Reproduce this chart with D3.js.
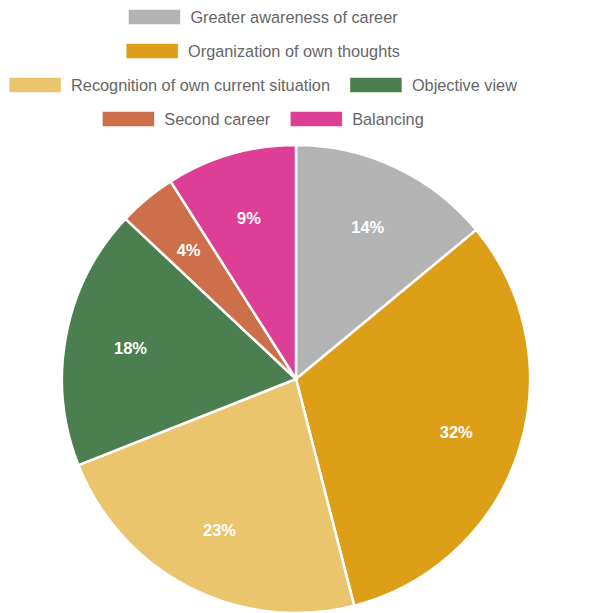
<!DOCTYPE html>
<html>
<head>
<meta charset="utf-8">
<script src="https://cdn.jsdelivr.net/npm/d3@7"></script>
<style>
  body { margin: 0; background: #fff; }
  text { font-family: "Liberation Sans", Arial, Helvetica, sans-serif; }
</style>
</head>
<body>
<div id="chart"></div>
<script>
var categories = ["Greater awareness of career", "Organization of own thoughts",
                  "Recognition of own current situation", "Objective view",
                  "Second career", "Balancing"];
var values = [14, 32, 23, 18, 4, 9];
var colors = ["#b3b3b3", "#dc9f17", "#ebc46e", "#4c7f50", "#cd6f4a", "#de3f96"];
var legendRows = [[0], [1], [2, 3], [4, 5]];

var width = 589, height = 613,
    cx = 296, cy = 379, radius = 234,
    legendCenter = 263;

var svg = d3.select("#chart").append("svg")
    .attr("width", width)
    .attr("height", height);

var data = categories.map(function(c, i) { return {name: c, value: values[i], color: colors[i]}; });

var pie = d3.pie().sort(null).value(function(d) { return d.value; });
var arc = d3.arc().innerRadius(0).outerRadius(radius);
var labelArc = d3.arc().innerRadius(radius * 0.72).outerRadius(radius * 0.72);

var g = svg.append("g").attr("transform", "translate(" + cx + "," + cy + ")");

var arcs = pie(data);

g.selectAll("path")
    .data(arcs)
  .enter().append("path")
    .attr("d", arc)
    .attr("fill", function(d) { return d.data.color; })
    .attr("stroke", "#fff")
    .attr("stroke-width", 2.5);

g.selectAll("text.pct")
    .data(arcs)
  .enter().append("text")
    .attr("class", "pct")
    .attr("transform", function(d) { return "translate(" + labelArc.centroid(d) + ")"; })
    .attr("text-anchor", "middle")
    .attr("dy", "0.42em")
    .attr("fill", "#fff")
    .style("font-size", "16.5px")
    .style("font-weight", "bold")
    .text(function(d) { return d.data.value + "%"; });

// legend, one centred row at a time
var boxW = 52, boxH = 15, gap = 10, itemPad = 20, rowStep = 34, firstRow = 17;
var legend = svg.append("g");

legendRows.forEach(function(row, r) {
  var y = firstRow + r * rowStep;
  var items = row.map(function(i) {
    var t = legend.append("text")
        .attr("fill", "#666")
        .attr("dy", "0.35em")
        .attr("y", y)
        .style("font-size", "16.3px")
        .text(categories[i]);
    return {i: i, t: t, w: t.node().getComputedTextLength()};
  });
  var total = d3.sum(items, function(d) { return boxW + gap + d.w; }) + itemPad * (items.length - 1);
  var x = legendCenter - total / 2;
  items.forEach(function(d) {
    legend.append("rect")
        .attr("x", x)
        .attr("y", y - boxH / 2)
        .attr("width", boxW)
        .attr("height", boxH)
        .attr("fill", colors[d.i])
        .attr("stroke", "#fff")
        .attr("stroke-width", 0.5);
    d.t.attr("x", x + boxW + gap);
    x += boxW + gap + d.w + itemPad;
  });
});
</script>
</body>
</html>
